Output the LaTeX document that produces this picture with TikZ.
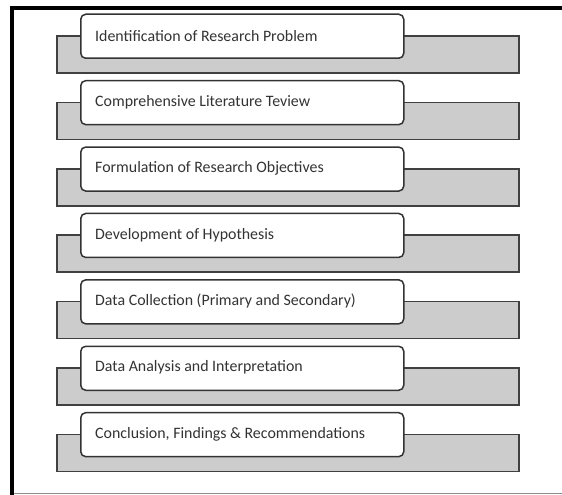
\documentclass[tikz,border=0pt]{standalone}
\usepackage{fontspec}
\setmainfont{Carlito}
\begin{document}
\begin{tikzpicture}[x=1pt,y=-1pt,
  bar/.style={draw=black!75,fill=black!20,line width=1.5pt},
  stepbox/.style={draw=black!80,fill=white,line width=1.5pt,rounded corners=5pt,
    minimum width=323pt,minimum height=44pt,anchor=north west,inner sep=0pt},
  lab/.style={anchor=west,font=\fontsize{15.9}{18}\selectfont,text=black!80,inner sep=0pt}]
\useasboundingbox (0,0) rectangle (562,495);
\fill[white] (0,0) rectangle (562,495);
\draw[line width=4pt,black] (12,495) -- (12,8) -- (562,8);
\draw[line width=0.8pt,black!45] (14,493) -- (562,493);
\foreach \i/\t in {1/Identification of Research Problem,
                   2/Comprehensive Literature Teview,
                   3/Formulation of Research Objectives,
                   4/Development of Hypothesis,
                   5/Data Collection (Primary and Secondary),
                   6/Data Analysis and Interpretation,
                   7/{Conclusion, Findings \& Recommendations}}{
  \pgfmathsetmacro{\yy}{13.5+(\i-1)*66.4}
  \draw[bar] (57,\yy+22.5) rectangle (519,\yy+59.5);
  \node[stepbox] (b\i) at (80,\yy) {};
  \node[lab] (t\i) at ([xshift=15pt,yshift=0.5pt]b\i.west) {\t};
}
\end{tikzpicture}
\end{document}
